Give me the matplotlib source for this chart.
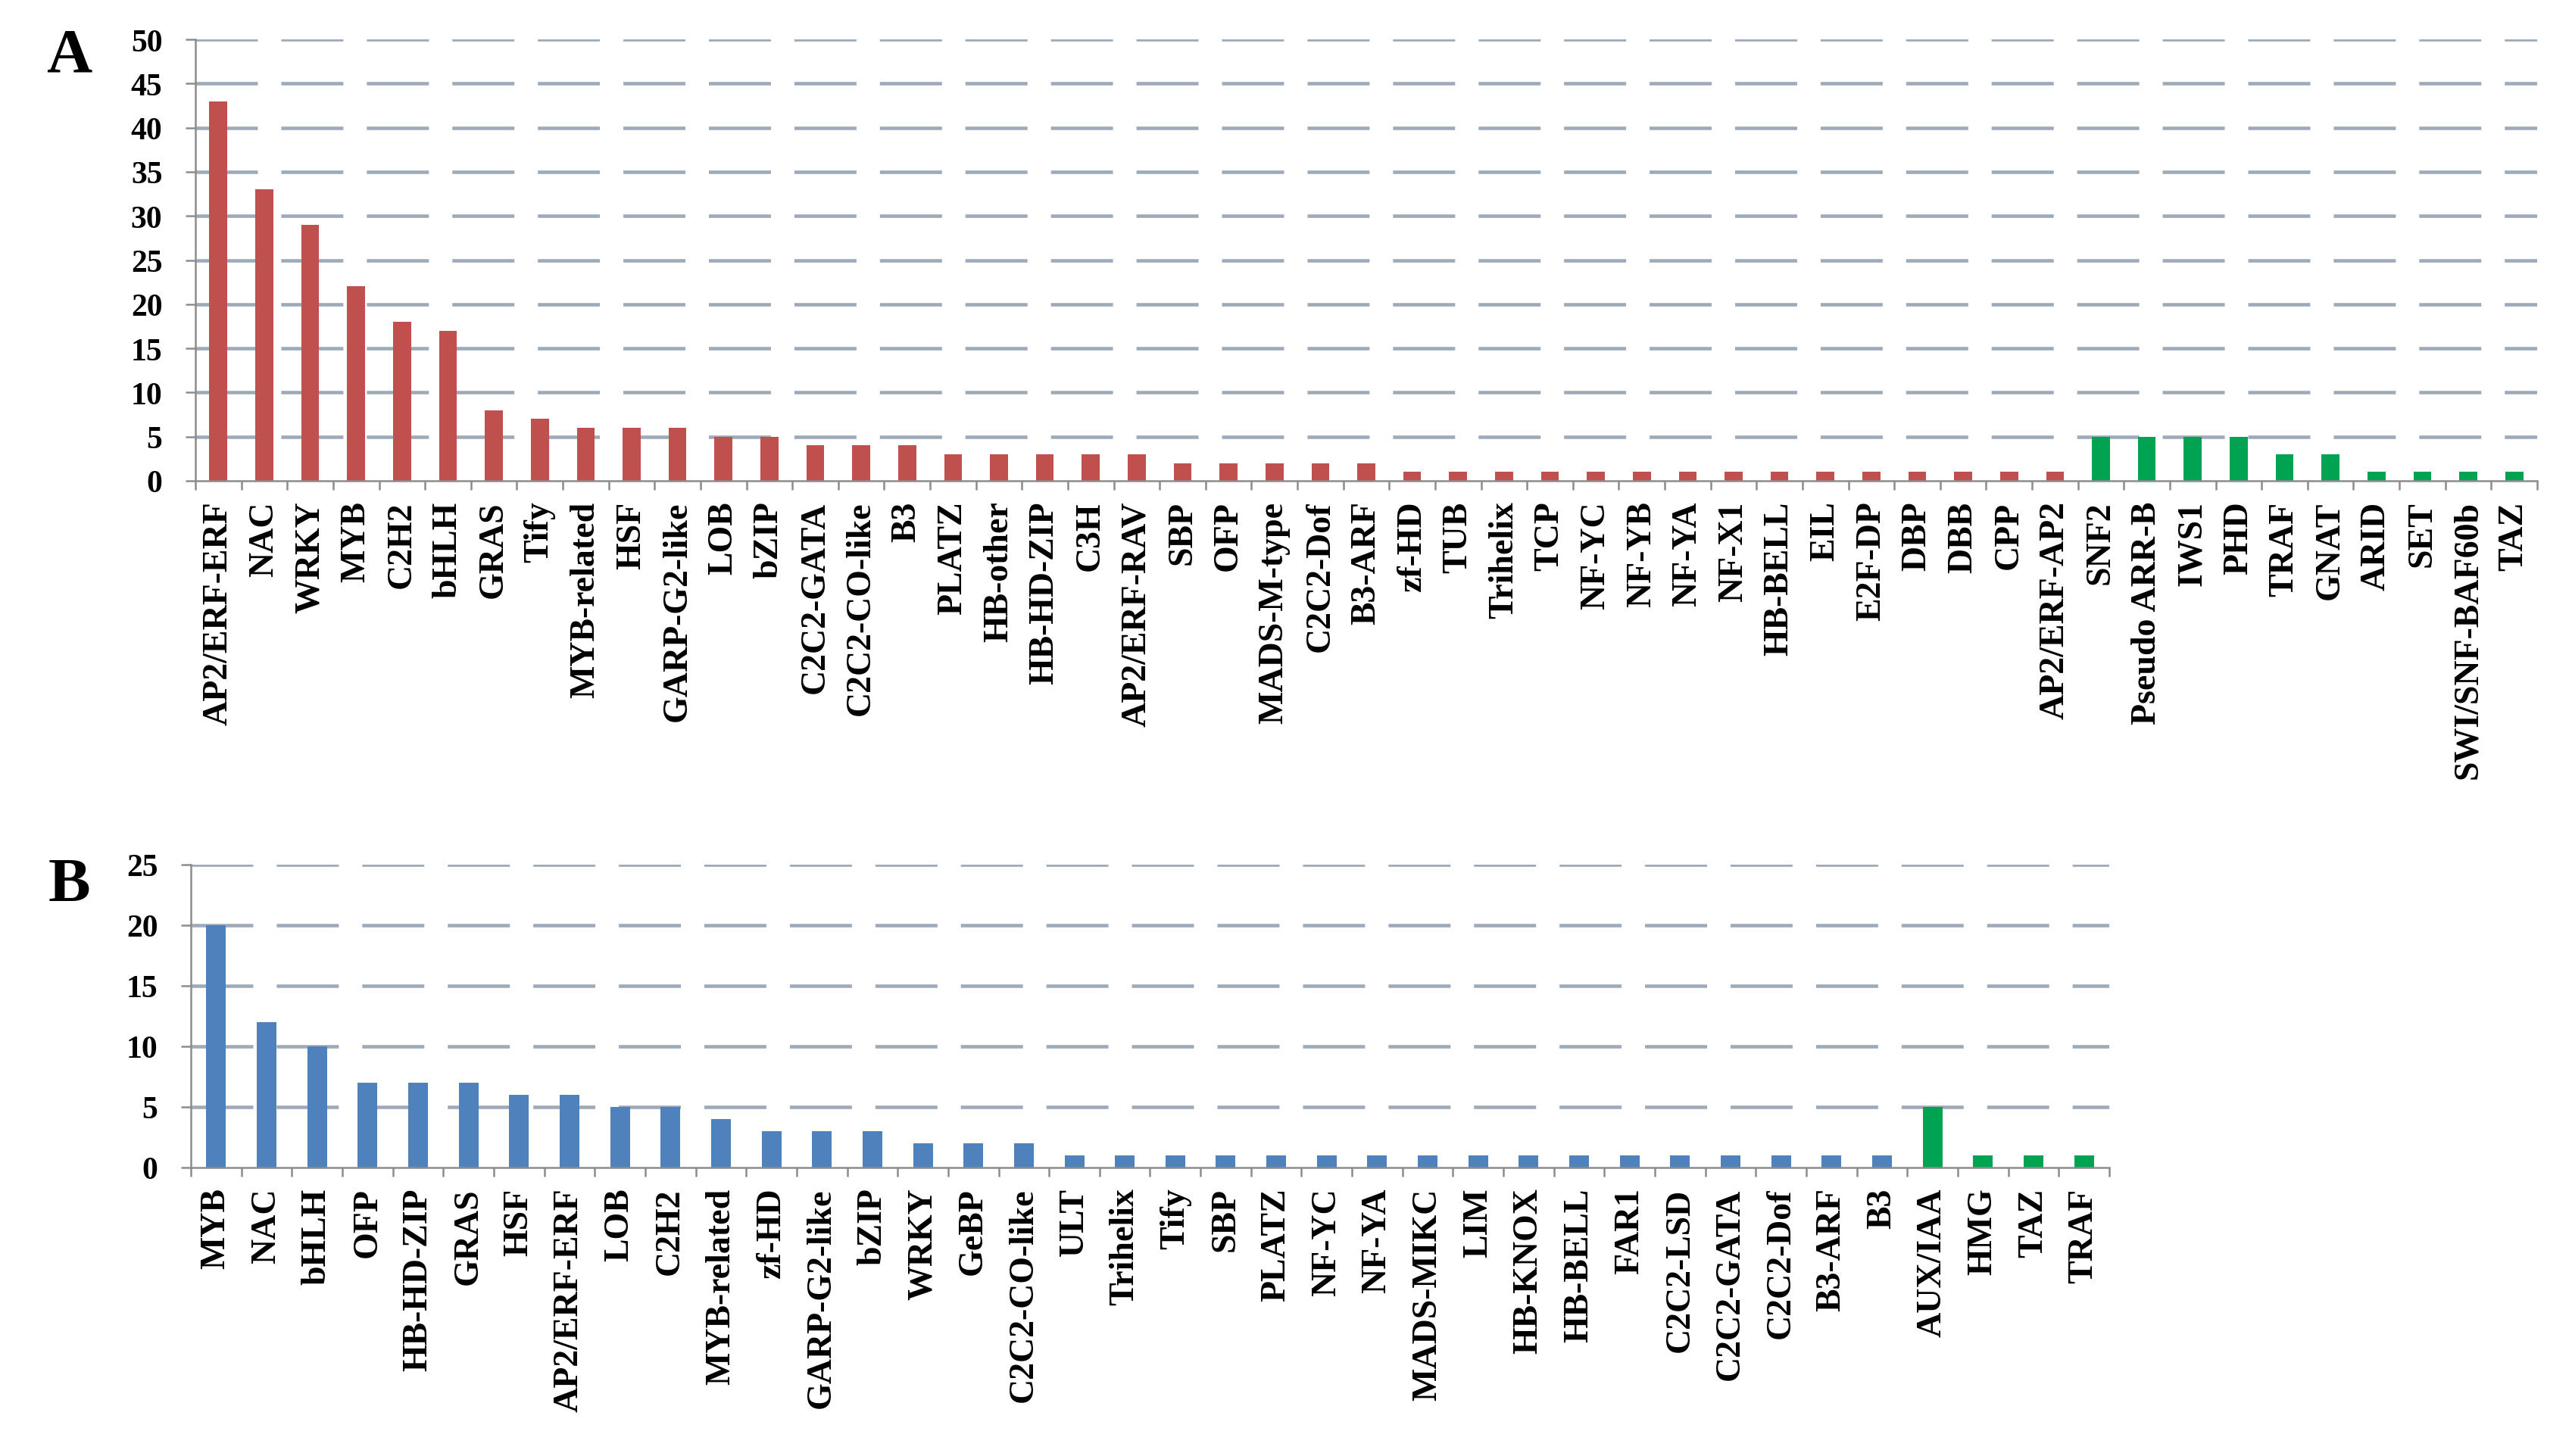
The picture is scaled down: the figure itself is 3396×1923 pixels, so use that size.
import matplotlib
matplotlib.use("Agg")
import matplotlib.pyplot as plt
import numpy as np

plt.rcParams['font.family'] = ['Liberation Serif', 'DejaVu Serif']
plt.rcParams['font.weight'] = 'bold'

# panel A
cats_a = ["AP2/ERF-ERF", "NAC", "WRKY", "MYB", "C2H2", "bHLH", "GRAS", "Tify",
          "MYB-related", "HSF", "GARP-G2-like", "LOB", "bZIP", "C2C2-GATA",
          "C2C2-CO-like", "B3", "PLATZ", "HB-other", "HB-HD-ZIP", "C3H",
          "AP2/ERF-RAV", "SBP", "OFP", "MADS-M-type", "C2C2-Dof", "B3-ARF",
          "zf-HD", "TUB", "Trihelix", "TCP", "NF-YC", "NF-YB", "NF-YA", "NF-X1",
          "HB-BELL", "EIL", "E2F-DP", "DBP", "DBB", "CPP", "AP2/ERF-AP2",
          "SNF2", "Pseudo ARR-B", "IWS1", "PHD", "TRAF", "GNAT", "ARID", "SET",
          "SWI/SNF-BAF60b", "TAZ"]
vals_a = [43, 33, 29, 22, 18, 17, 8, 7, 6, 6, 6, 5, 5, 4, 4, 4, 3, 3, 3, 3,
          3, 2, 2, 2, 2, 2, 1, 1, 1, 1, 1, 1, 1, 1, 1, 1, 1, 1, 1, 1, 1,
          5, 5, 5, 5, 3, 3, 1, 1, 1, 1]
n_tf_a = 41  # first 41 are TFs (red), rest are TRs (green)

# panel B
cats_b = ["MYB", "NAC", "bHLH", "OFP", "HB-HD-ZIP", "GRAS", "HSF", "AP2/ERF-ERF",
          "LOB", "C2H2", "MYB-related", "zf-HD", "GARP-G2-like", "bZIP", "WRKY",
          "GeBP", "C2C2-CO-like", "ULT", "Trihelix", "Tify", "SBP", "PLATZ",
          "NF-YC", "NF-YA", "MADS-MIKC", "LIM", "HB-KNOX", "HB-BELL", "FAR1",
          "C2C2-LSD", "C2C2-GATA", "C2C2-Dof", "B3-ARF", "B3",
          "AUX/IAA", "HMG", "TAZ", "TRAF"]
vals_b = [20, 12, 10, 7, 7, 7, 6, 6, 5, 5, 4, 3, 3, 3, 2, 2, 2, 1, 1, 1, 1, 1,
          1, 1, 1, 1, 1, 1, 1, 1, 1, 1, 1, 1,
          5, 1, 1, 1]
n_tf_b = 34

RED = "#c0504d"
BLUE = "#4f81bd"
GREEN = "#00a352"
GRID = "#9eaaba"
AXC = "#8c8c8c"

W, H = 3396, 1924
fig = plt.figure(figsize=(W / 100, H / 100), dpi=100)


def panel(rect, cats, vals, n_tf, tf_color, ymax, step):
    ax = fig.add_axes(rect)
    x = np.arange(len(cats))
    colors = [tf_color if i < n_tf else GREEN for i in range(len(cats))]
    ax.bar(x, vals, width=0.39, color=colors, zorder=3)
    ax.set_xlim(-0.5, len(cats) - 0.5)
    ax.set_ylim(0, ymax)
    ax.set_yticks(np.arange(0, ymax + 1, step))
    lw = 3.3
    for yv in np.arange(step, ymax + 1, step):
        ax.axhline(yv, color=GRID, lw=lw, zorder=1,
                   linestyle=(0, (59 / lw, 22.3 / lw)))
    ax.set_xticks(x)
    ax.set_xticklabels(cats, rotation=90, fontsize=33, fontweight='bold')
    ax.set_xticks(np.arange(len(cats) + 1) - 0.5, minor=True)
    ax.tick_params(axis='x', which='major', length=0, pad=19)
    ax.tick_params(axis='x', which='minor', length=8.6, width=1.8, color=AXC)
    ax.tick_params(axis='y', length=9.4, width=1.8, color=AXC, pad=22,
                   labelsize=30)
    for lab in ax.get_yticklabels():
        lab.set_fontweight('bold')
    for s in ('top', 'right'):
        ax.spines[s].set_visible(False)
    for s in ('left', 'bottom'):
        ax.spines[s].set_color(AXC)
        ax.spines[s].set_linewidth(1.8)
        ax.spines[s].set_zorder(4)
    return ax


panel([258 / W, 1 - 636 / H, (3350 - 258) / W, (636 - 53) / H],
      cats_a, vals_a, n_tf_a, RED, 50, 5)
panel([252 / W, 1 - 1543 / H, (2785 - 252) / W, (1543 - 1143) / H],
      cats_b, vals_b, n_tf_b, BLUE, 25, 5)

fig.text(91 / W, 1 - 75 / H, "A", fontsize=60, fontweight='bold',
         ha='center', va='center')
fig.text(91 / W, 1 - 1170 / H, "B", fontsize=60, fontweight='bold',
         ha='center', va='center')

fig.savefig("out.png", dpi=100, facecolor='white')
